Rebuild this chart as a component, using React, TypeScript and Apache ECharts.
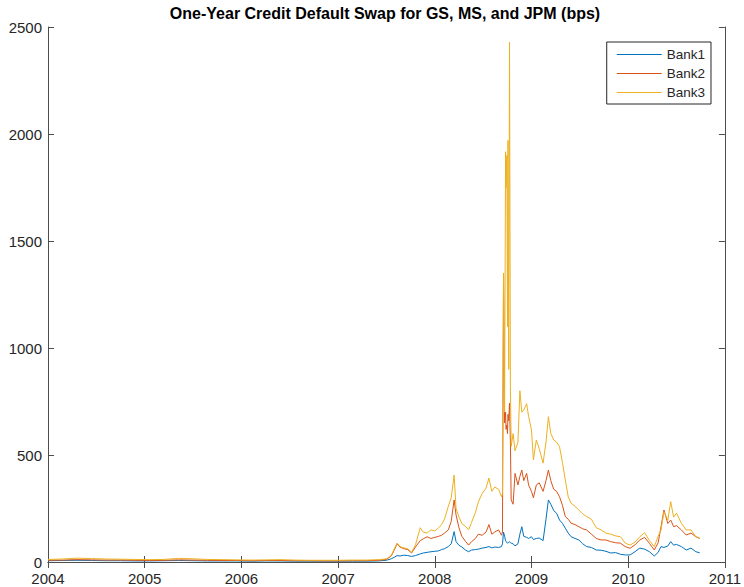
import React, { useEffect, useRef } from "react";
import * as echarts from "echarts";

const TITLE = "One-Year Credit Default Swap for GS, MS, and JPM (bps)";
const SERIES_NAMES = ["Bank1", "Bank2", "Bank3"];
const COLORS = ["#0072BD", "#D95319", "#EDB120"];
const X_TICKS = [2004, 2005, 2006, 2007, 2008, 2009, 2010, 2011];
const Y_TICKS = [0, 500, 1000, 1500, 2000, 2500];

const dates = [
  2004.0, 2004.15, 2004.3, 2004.45, 2004.6, 2004.75, 2004.9, 2005.05, 2005.2, 2005.35,
  2005.5, 2005.65, 2005.8, 2005.95, 2006.1, 2006.25, 2006.4, 2006.55, 2006.7, 2006.85,
  2007.0, 2007.15, 2007.3, 2007.42, 2007.5, 2007.55, 2007.58, 2007.61, 2007.64, 2007.68,
  2007.72, 2007.76, 2007.8, 2007.85, 2007.88, 2007.92, 2007.96, 2008.0, 2008.04, 2008.07,
  2008.1, 2008.14, 2008.17, 2008.2, 2008.22, 2008.25, 2008.28, 2008.32, 2008.35, 2008.38,
  2008.42, 2008.45, 2008.49, 2008.53, 2008.56, 2008.59, 2008.62, 2008.66, 2008.69, 2008.7,
  2008.711, 2008.722, 2008.732, 2008.737, 2008.745, 2008.752, 2008.757, 2008.765, 2008.773, 2008.782,
  2008.79, 2008.81, 2008.83, 2008.86, 2008.88, 2008.9, 2008.92, 2008.95, 2008.97, 2009.0,
  2009.02, 2009.05, 2009.08, 2009.12, 2009.15, 2009.175, 2009.2, 2009.23, 2009.26, 2009.29,
  2009.32, 2009.35, 2009.38, 2009.41, 2009.45, 2009.49, 2009.53, 2009.57, 2009.62, 2009.67,
  2009.72, 2009.77, 2009.82, 2009.87, 2009.92, 2009.97, 2010.02, 2010.07, 2010.12, 2010.17,
  2010.22, 2010.27, 2010.31, 2010.34, 2010.37, 2010.41, 2010.44, 2010.47, 2010.5, 2010.55,
  2010.6, 2010.65, 2010.7, 2010.74,
];

const bank1 = [
  6, 7, 8, 7, 6, 6, 5, 5, 6, 7,
  6, 5, 5, 5, 4, 5, 5, 4, 4, 4,
  4, 4, 4, 5, 8, 15, 22, 30, 28, 32,
  30, 26, 30, 38, 42, 45, 48, 50, 52, 58,
  62, 72, 85, 142, 95, 78, 70, 55, 48, 56,
  58, 60, 65, 68, 72, 66, 70, 68, 72, 85,
  140, 120, 100, 95, 92, 88, 90, 92, 95, 90,
  88, 85, 75, 85, 130, 165, 120, 115, 110, 118,
  105, 110, 112, 100, 200, 290, 270, 240, 228, 196,
  181, 158, 135, 118, 110, 103, 85, 72, 68, 56,
  55, 50, 42, 44, 36, 33, 33, 48, 65, 60,
  48, 28, 45, 72, 68, 75, 95, 79, 82, 72,
  56, 65, 48, 43,
];

const bank2 = [
  8, 9, 11, 10, 9, 9, 8, 7, 8, 10,
  9, 8, 7, 7, 6, 7, 7, 6, 6, 5,
  5, 6, 6, 8, 12, 28, 55, 85, 70, 62,
  58, 42, 70, 100, 108, 118, 110, 115, 120, 125,
  135, 150, 190, 290, 220, 160, 120, 95, 79, 95,
  110, 130, 125, 140, 175, 130, 140, 150, 125, 140,
  1350, 650, 700, 620, 640, 600, 690, 660, 743, 560,
  290, 270, 414, 360, 400, 430, 380, 414, 360, 330,
  300, 360, 370, 330, 380, 430, 380, 340, 330, 305,
  265, 212, 200, 181, 175, 165, 155, 150, 130, 110,
  103, 103, 95, 90, 88, 72, 64, 80, 103, 115,
  87, 56, 90, 165, 243, 180, 196, 165, 170, 150,
  126, 135, 118, 110,
];

const bank3 = [
  12, 14, 18, 16, 14, 13, 12, 11, 12, 17,
  15, 12, 11, 10, 9, 10, 11, 9, 8, 8,
  8, 9, 9, 11, 15, 30, 60, 88, 72, 66,
  62, 45, 80, 160, 140, 135, 150, 145, 160, 175,
  200, 260, 300, 406, 250, 210, 180, 165, 150, 185,
  230, 280, 320, 345, 392, 330, 350, 340, 305, 320,
  1350, 700, 1917, 1750, 1900, 1100, 1970, 900, 2430, 820,
  540, 600, 520, 560, 800, 700, 710, 740, 680, 617,
  477, 570, 530, 462, 560, 679, 600, 570, 560, 539,
  465, 383, 305, 275, 260, 243, 225, 212, 200, 160,
  150, 135, 130, 122, 118, 88, 79, 93, 118, 137,
  100, 72, 120, 150, 235, 196, 282, 210, 228, 181,
  150, 150, 118, 112,
];

const VALUES = [bank1, bank2, bank3];

export default function App() {
  const ref = useRef<HTMLDivElement>(null);
  useEffect(() => {
    if (!ref.current) return;
    const chart = echarts.init(ref.current, undefined, { renderer: "svg" });
    const font = "'Liberation Sans', Arial, Helvetica, sans-serif";
    const axisColor = "#4d4d4d";
    const textColor = "#262626";
    const fmt = (v: number) => String(v);
    const xBase = {
      type: "value" as const,
      min: X_TICKS[0],
      max: X_TICKS[X_TICKS.length - 1],
      interval: 1,
      splitLine: { show: false },
      axisLine: { show: true, lineStyle: { color: axisColor, width: 1 } },
      axisTick: { show: true, inside: true, length: 6, lineStyle: { color: axisColor } },
    };
    const yBase = {
      type: "value" as const,
      min: Y_TICKS[0],
      max: Y_TICKS[Y_TICKS.length - 1],
      interval: 500,
      splitLine: { show: false },
      axisLine: { show: true, lineStyle: { color: axisColor, width: 1 } },
      axisTick: { show: true, inside: true, length: 6, lineStyle: { color: axisColor } },
    };
    chart.setOption({
      animation: false,
      backgroundColor: "#ffffff",
      textStyle: { fontFamily: font },
      graphic: [
        {
          type: "text",
          x: 385,
          y: 13,
          style: {
            text: TITLE,
            fontFamily: font,
            fontSize: 16,
            fontWeight: "bold",
            fill: "#000000",
            textAlign: "center",
            textVerticalAlign: "middle",
          },
        },
      ],
      legend: {
        orient: "vertical",
        right: 33,
        top: 42,
        padding: [3, 6, 2, 10],
        itemGap: 0,
        itemWidth: 45,
        itemHeight: 1,
        icon: "rect",
        borderColor: "#262626",
        borderWidth: 1,
        backgroundColor: "#ffffff",
        textStyle: { fontFamily: font, fontSize: 13.5, color: textColor, lineHeight: 19 },
        data: SERIES_NAMES,
      },
      grid: { left: 48, right: 17, top: 27, bottom: 25 },
      xAxis: [
        {
          ...xBase,
          position: "bottom",
          axisLabel: { show: true, color: textColor, fontSize: 15, margin: 9, fontFamily: font, formatter: fmt },
        },
        { ...xBase, position: "top", axisLabel: { show: false } },
      ],
      yAxis: [
        {
          ...yBase,
          position: "left",
          axisLabel: { show: true, color: textColor, fontSize: 15, margin: 6, fontFamily: font, formatter: fmt },
        },
        { ...yBase, position: "right", axisLabel: { show: false } },
      ],
      series: SERIES_NAMES.map((name, i) => ({
        name,
        type: "line",
        xAxisIndex: 0,
        yAxisIndex: 0,
        showSymbol: false,
        symbol: "none",
        lineStyle: { color: COLORS[i], width: 1 },
        itemStyle: { color: COLORS[i] },
        data: dates.map((d, k) => [d, VALUES[i][k]]),
      })),
    });
    return () => chart.dispose();
  }, []);
  return (
    <div
      ref={ref}
      style={{ position: "fixed", left: 0, top: 0, width: 744, height: 587 }}
    />
  );
}
